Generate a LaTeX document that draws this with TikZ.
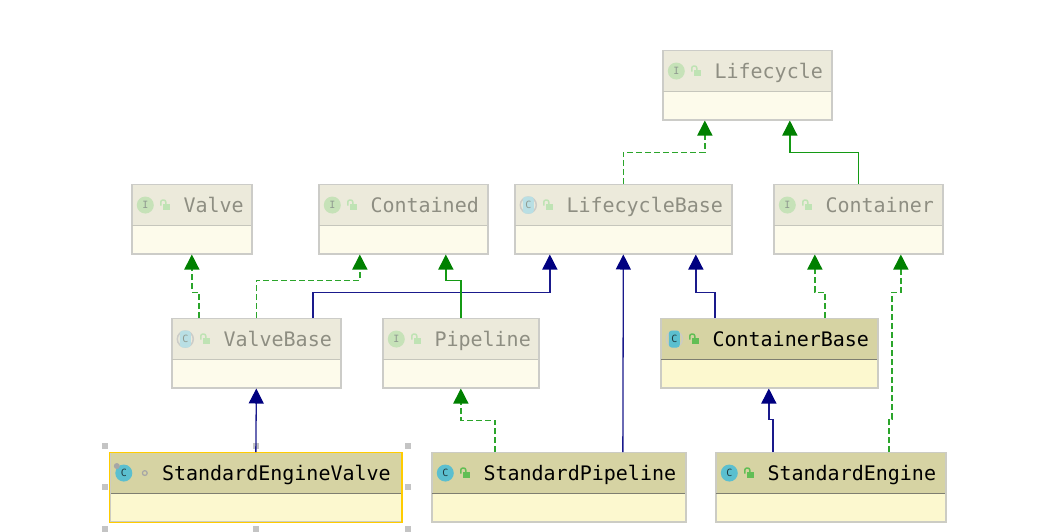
\documentclass[tikz,border=0pt]{standalone}
\usepackage{fontspec}
\setmonofont{DejaVu Sans Mono}
\usetikzlibrary{arrows.meta}
\usetikzlibrary{calc}

\definecolor{dimhead}{HTML}{ECEADB}
\definecolor{dimbody}{HTML}{FDFBEB}
\definecolor{dimline}{HTML}{CCCCC8}
\definecolor{dimrule}{HTML}{C6C6BC}
\definecolor{dimtext}{HTML}{8E8E82}
\definecolor{dimiface}{HTML}{C6E2B8}
\definecolor{dimclass}{HTML}{B9DFE4}
\definecolor{dimlock}{HTML}{BFE3B4}
\definecolor{dimmark}{HTML}{8F9A90}
\definecolor{livehead}{HTML}{D6D3A3}
\definecolor{livebody}{HTML}{FCF8CF}
\definecolor{liveline}{HTML}{CCCCC4}
\definecolor{liverule}{HTML}{7E7E70}
\definecolor{livetext}{HTML}{000000}
\definecolor{liveclass}{HTML}{5BBFCF}
\definecolor{livelock}{HTML}{62BE55}
\definecolor{livemark}{HTML}{1F3A40}
\definecolor{pickline}{HTML}{FFCC00}
\definecolor{handle}{HTML}{C4C4C4}
\definecolor{extblue}{HTML}{000080}
\definecolor{extline}{HTML}{1A1A8C}
\definecolor{implgreen}{HTML}{008000}
\definecolor{dashgreen}{HTML}{2BA52B}
\definecolor{solidgreen}{HTML}{149A14}

\tikzset{
  classnode/.style={rectangle, inner sep=0pt, minimum height=69pt, line width=1.3pt},
  headnode/.style={rectangle, inner sep=0pt, minimum height=40pt},
  titletext/.style={inner sep=0pt, font=\ttfamily\fontsize{20}{20}\selectfont},
  iconmark/.style={inner sep=0pt, font=\ttfamily\fontsize{10}{10}\selectfont},
  extends/.style={extline, line width=1.3pt, -{Triangle[length=15pt,width=15pt,color=extblue]}},
  implements/.style={dashgreen, line width=1.4pt, dash pattern=on 6pt off 3pt, -{Triangle[length=15pt,width=15pt,color=implgreen]}},
  inherits/.style={solidgreen, line width=1.3pt, -{Triangle[length=15pt,width=15pt,color=implgreen]}},
  handlenode/.style={fill=handle, inner sep=0pt, minimum size=6pt}
}

% name, dim or live, left, top, width, title
\newcommand{\classbox}[6]{
  \node[classnode, anchor=north west, draw=#2line, fill=#2body, minimum width=#5pt] (#1) at (#3,#4) {};
  \node[headnode, anchor=north, fill=#2head, minimum width=#5pt-1.3pt] (#1-head) at ([yshift=-0.65pt]#1.north) {};
  \draw[#2rule, line width=1.3pt] (#1-head.south west) -- (#1-head.south east);
  \node[titletext, anchor=base west, text=#2text] (#1-title) at ([xshift=51pt,yshift=-7pt]#1-head.west) {#6};
}
\newcommand{\lockicon}[2]{
  \fill[#2lock] ($(#1-head.west)+(31,-1)$) rectangle ($(#1-head.west)+(38,5)$);
  \draw[#2lock, line width=1.5pt, rounded corners=2pt] ($(#1-head.west)+(28.5,0.5)$) -- ($(#1-head.west)+(28.5,-5)$) -- ($(#1-head.west)+(33.5,-5)$) -- ($(#1-head.west)+(33.5,-1)$);
}
\newcommand{\ifaceicon}[1]{
  \node[circle, fill=dimiface, minimum size=17pt, inner sep=0pt, iconmark, text=dimmark] (#1-icon) at ([xshift=13pt]#1-head.west) {I};
  \lockicon{#1}{dim}
}
\newcommand{\classicon}[1]{
  \node[circle, fill=liveclass, minimum size=17pt, inner sep=0pt, iconmark, text=livemark] (#1-icon) at ([xshift=13pt]#1-head.west) {C};
}
\newcommand{\abstracticon}[2]{
  \draw[#2line, line width=1.5pt] ([xshift=13pt]#1-head.west) circle (8pt);
  \node[rectangle, rounded corners=3pt, fill=#2class, minimum width=11pt, minimum height=17pt, inner sep=0pt, iconmark, text=#2mark] (#1-icon) at ([xshift=13pt]#1-head.west) {C};
  \lockicon{#1}{#2}
}

\begin{document}
\begin{tikzpicture}[x=1pt, y=-1pt]
\useasboundingbox (0.8,0.8) rectangle (1043.8,531.8);

\classbox{Lifecycle}{dim}{663}{51}{169}{Lifecycle}
\ifaceicon{Lifecycle}

\classbox{Valve}{dim}{132}{185}{120}{Valve}
\ifaceicon{Valve}
\classbox{Contained}{dim}{319}{185}{169}{Contained}
\ifaceicon{Contained}
\classbox{LifecycleBase}{dim}{515}{185}{217}{LifecycleBase}
\abstracticon{LifecycleBase}{dim}
\classbox{Container}{dim}{774}{185}{169}{Container}
\ifaceicon{Container}

\classbox{ValveBase}{dim}{172}{319}{169}{ValveBase}
\abstracticon{ValveBase}{dim}
\classbox{Pipeline}{dim}{383}{319}{156}{Pipeline}
\ifaceicon{Pipeline}
\classbox{ContainerBase}{live}{661}{319}{217}{ContainerBase}
\abstracticon{ContainerBase}{live}

\classbox{StandardEngineValve}{live}{110.5}{453}{291}{StandardEngineValve}
\draw[pickline, line width=1.3pt] (StandardEngineValve.south west) rectangle (StandardEngineValve.north east);
\classicon{StandardEngineValve}
\fill[gray!70] ([shift={(-7,-7)}]StandardEngineValve-icon.center) circle (3pt);
\draw[gray!70, line width=1.2pt] ([xshift=21pt]StandardEngineValve-icon.center) circle (2.4pt);
\classbox{StandardPipeline}{live}{432}{453}{254}{StandardPipeline}
\classicon{StandardPipeline}
\lockicon{StandardPipeline}{live}
\classbox{StandardEngine}{live}{716}{453}{230}{StandardEngine}
\classicon{StandardEngine}
\lockicon{StandardEngine}{live}

% selection handles
\node[handlenode] (h1) at ($(StandardEngineValve.north west)+(-5,-6)$) {};
\node[handlenode] (h2) at ($(StandardEngineValve.north)+(0,-6)$) {};
\node[handlenode] (h3) at ($(StandardEngineValve.north east)+(6,-6)$) {};
\node[handlenode] (h4) at ($(StandardEngineValve.west)+(-5,0)$) {};
\node[handlenode] (h5) at ($(StandardEngineValve.east)+(6,0)$) {};
\node[handlenode] (h6) at ($(StandardEngineValve.south west)+(-5,6)$) {};
\node[handlenode] (h7) at ($(StandardEngineValve.south)+(0,6)$) {};
\node[handlenode] (h8) at ($(StandardEngineValve.south east)+(6,6)$) {};

\draw[implements] (LifecycleBase.north) -- ++(0,-32) -| ([xshift=-42.5pt]Lifecycle.south);
\draw[inherits] (Container.north) -- ++(0,-32) -| ([xshift=42.5pt]Lifecycle.south);

\draw[implements] ([xshift=-57.5pt]ValveBase.north) -- ++(0,-26) -| (Valve.south);
\draw[implements] (ValveBase.north) -- ++(0,-38) -| ([xshift=-43.5pt]Contained.south);
\draw[extends] ([xshift=56.5pt]ValveBase.north) -- ++(0,-26) -| ([xshift=-73.5pt]LifecycleBase.south);

\draw[inherits] (Pipeline.north) -- ++(0,-38) -| ([xshift=42.5pt]Contained.south);

\draw[extends] ([xshift=-54.5pt]ContainerBase.north) -- ++(0,-26) -| ([xshift=72.5pt]LifecycleBase.south);
\draw[implements] ([xshift=55.5pt]ContainerBase.north) -- ++(0,-26) -| ([xshift=-43.5pt]Container.south);

\draw[extends] (StandardEngineValve.north) -- (ValveBase.south);
\draw[implements] ([xshift=-64pt]StandardPipeline.north) -- ++(0,-32) -| (Pipeline.south);
\draw[extends] ([xshift=64pt]StandardPipeline.north) -- (LifecycleBase.south);
\draw[extends] ([xshift=-58pt]StandardEngine.north) -- ++(0,-33) -| ([xshift=-0.5pt]ContainerBase.south);
\draw[implements] ([xshift=58pt]StandardEngine.north) -- ++(0,-33) -- ++(3,0) -- ++(0,-127) -| ([xshift=42.5pt]Container.south);

\end{tikzpicture}
\end{document}
